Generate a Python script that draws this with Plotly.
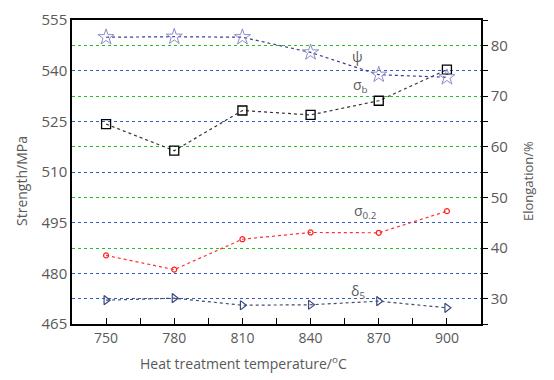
import plotly.graph_objects as go

temps = [750, 780, 810, 840, 870, 900]
sigma_b = [524.2, 516.3, 528.2, 526.9, 531.1, 540.3]
sigma_02 = [485.3, 481.1, 490.1, 492.1, 492.0, 498.4]
psi = [81.6, 81.7, 81.6, 78.6, 74.2, 73.7]
delta5 = [29.7, 30.1, 28.7, 28.8, 29.5, 28.2]
left_ticks = [465, 472.5, 480, 495, 510, 525, 540, 555]
left_labels = ["465", "", "480", "495", "510", "525", "540", "555"]
green_grid = [487.5, 502.5, 517.5, 532.5, 547.5]

FONT = "Open Sans"
GRAY = "#595959"

fig = go.Figure()
fig.add_trace(go.Scatter(x=temps, y=psi, yaxis="y2", mode="lines+markers",
    line=dict(color="#3c3c8c", width=1.2, dash="dot"),
    marker=dict(symbol="star-open", size=12, color="#8c8cc8", line=dict(width=1))))
fig.add_trace(go.Scatter(x=temps, y=sigma_b, mode="lines+markers",
    line=dict(color="#333333", width=1.2, dash="dot"),
    marker=dict(symbol="square-open", size=9, color="black", line=dict(width=1.3))))
fig.add_trace(go.Scatter(x=temps, y=sigma_02, mode="lines+markers",
    line=dict(color="#ff3030", width=1.2, dash="dot"),
    marker=dict(symbol="circle-open", size=5, color="#ff2020", line=dict(width=1.2))))
fig.add_trace(go.Scatter(x=temps, y=delta5, yaxis="y2", mode="lines+markers",
    line=dict(color="#4a4a6a", width=1.2, dash="dot"),
    marker=dict(symbol="triangle-right-open", size=8, color="#3a4a80", line=dict(width=1.2))))

ann = [
    (860.5, 544.3, "ψ"),
    (862, 535.5, "σ<sub>b</sub>"),
    (864, 498.3, "σ<sub>0.2</sub>"),
    (861, 474.5, "δ<sub>5</sub>"),
]
for x, y, t in ann:
    fig.add_annotation(x=x, y=y, text=t, showarrow=False,
                       font=dict(family=FONT, size=14, color=GRAY))

# axis titles
fig.add_annotation(xref="paper", yref="paper", x=0, y=0.5, xshift=-51, yshift=-9,
                   xanchor="center", yanchor="middle",
                   text="Strength/MPa", textangle=-90, showarrow=False,
                   font=dict(family=FONT, size=14, color=GRAY))
fig.add_annotation(xref="paper", yref="paper", x=1, y=0.5, xshift=47, yshift=-9,
                   xanchor="center", yanchor="middle",
                   text="Elongation/%", textangle=-90, showarrow=False,
                   font=dict(family=FONT, size=13, color=GRAY))
fig.add_annotation(xref="paper", yref="paper", x=0.5, y=0, xshift=-33, yshift=-39,
                   xanchor="center", yanchor="middle",
                   text="Heat treatment temperature/<sup>o</sup>C", showarrow=False,
                   font=dict(family=FONT, size=14, color=GRAY))

fig.update_layout(
    width=554, height=380,
    margin=dict(l=72, r=73, t=20, b=56),
    paper_bgcolor="white", plot_bgcolor="white",
    showlegend=False,
    font=dict(family=FONT, size=14, color=GRAY),
    xaxis=dict(range=[735, 915], tickvals=temps, ticks="inside", ticklen=6,
               tickcolor="black", showgrid=False, zeroline=False, automargin=False,
               showline=True, linecolor="black", linewidth=1.5, mirror=True,
               minor=dict(tickvals=[765, 795, 825, 855, 885], ticks="inside", ticklen=6, tickcolor="black"),
               tickfont=dict(size=14, color=GRAY)),
    yaxis=dict(range=[465, 555], tickvals=left_ticks, ticktext=left_labels, showgrid=True, automargin=False,
               gridcolor="#2c5cc8", griddash="dot", gridwidth=1, zeroline=False,
               showline=True, linecolor="black", linewidth=1.5, ticks="",
               minor=dict(tickvals=green_grid, showgrid=True, gridcolor="#22c022", griddash="dot",
                          gridwidth=1, ticks=""),
               tickfont=dict(size=15, color=GRAY)),
    yaxis2=dict(range=[25, 85], overlaying="y", side="right", tick0=0, dtick=10,
                showgrid=False, automargin=False,
                zeroline=False, showline=True, linecolor="black", linewidth=1.5,
                ticks="outside", ticklen=5, tickcolor="black",
                minor=dict(dtick=5, ticks="outside", ticklen=5, tickcolor="black", showgrid=False),
                tickfont=dict(size=15, color=GRAY)),
)

fig.write_html("out.html", config={"displayModeBar": False},
               post_script="document.body.style.margin='0';")
